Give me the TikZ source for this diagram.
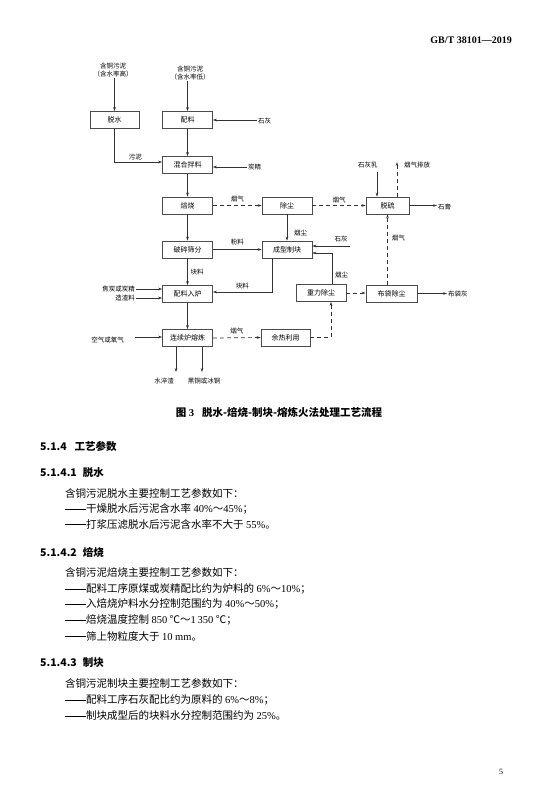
\documentclass[tikz,border=0pt]{standalone}
\usepackage{fontspec}
\setmainfont{Noto Sans CJK SC}
\newfontfamily\headserif{Liberation Serif}
\usetikzlibrary{arrows.meta,positioning}
\newcommand\diagfont{\fontsize{7}{8.5}\selectfont}
\newcommand\smallfont{\fontsize{6.5}{8}\selectfont}
\newcommand\bodyfont{\fontsize{10.5}{12}\selectfont}
\newcommand\lead{\rule[0.33em]{1.95em}{0.45pt}\hspace{0.05em}}
\newcommand\nm[1]{{\headserif #1}}

\begin{document}
\begin{tikzpicture}[x=1pt, y=-1pt,
        box/.style={draw=black!70, line width=0.6pt, minimum width=50pt, minimum height=17pt, inner sep=1pt, font=\diagfont},
        lbl/.style={font=\smallfont, inner sep=1pt, align=center},
        flow/.style={-{Stealth[length=4pt,width=2.6pt]}, line width=0.45pt, draw=black!80},
        gas/.style={flow, dashed, dash pattern=on 4pt off 3pt, line width=0.7pt},
        heading/.style={anchor=west, font=\bfseries\bodyfont, inner sep=0pt},
        bodyline/.style={anchor=west, font=\bodyfont, inner sep=0pt}
      ]
      \useasboundingbox[fill=white] (0,0) rectangle (540,804);
      \node[anchor=east, inner sep=0pt, font={\headserif\bfseries\fontsize{10}{12}\selectfont}] (head) at (512,40) {GB/T 38101—2019};

      % process boxes
      \node[box, minimum width=49pt] (dehyd) at (114.5,120) {脱水};
      \node[box] (batch) at (187.5,120) {配料};
      \node[box] (mix) at (187.5,165) {混合拌料};
      \node[box] (roast) at (187.5,205.5) {焙烧};
      \node[box] (dust) at (287,205.5) {除尘};
      \node[box, minimum width=43pt] (desulf) at (387.5,205.5) {脱硫};
      \node[box] (crush) at (187.5,249.5) {破碎筛分};
      \node[box] (brick) at (287,249.5) {成型制块};
      \node[box] (feed) at (187.5,294) {配料入炉};
      \node[box] (grav) at (321,293) {重力除尘};
      \node[box, minimum width=51pt] (bag) at (391.5,293.5) {布袋除尘};
      \node[box, minimum width=49pt] (heat) at (285.5,337.5) {余热利用};
      \node[box] (smelt) at (187.5,338) {连续炉熔炼};

      % inputs and outputs
      \node[lbl] (src1) at (113,70) {含铜污泥\\（含水率高）};
      \node[lbl] (src2) at (190,73) {含铜污泥\\（含水率低）};
      \node[lbl, anchor=west] (lime1) at (257,121) {石灰};
      \node[lbl, anchor=west] (coke1) at (247,167) {炭精};
      \node[lbl, anchor=west] (limemilk) at (357,165) {石灰乳};
      \coordinate (milkin) at (377,172);
      \coordinate (exhaust) at (397,162);
      \node[lbl, anchor=west] (exhaustlbl) at (403,165) {烟气排放};
      \node[lbl, anchor=west] (gypsum) at (437,207) {石膏};
      \coordinate (lime2in) at (350,246);
      \node[lbl] (lime2) at (341,239) {石灰};
      \node[lbl, anchor=east] (coke2) at (136,289) {焦炭或炭精};
      \node[lbl, anchor=east] (slag) at (136,298) {造渣料};
      \node[lbl, anchor=west] (bagash) at (447,294.5) {布袋灰};
      \node[lbl, anchor=east] (air) at (125,340) {空气或氧气};
      \node[lbl] (out1) at (164,381) {水淬渣};
      \node[lbl] (out2) at (204,381) {黑铜或冰铜};
      \coordinate (slagend) at (176,372);
      \coordinate (copperend) at (202,372);
      \coordinate (dustup) at (332,253);
      \coordinate (airin) at (135,337);

      % material flow
      \draw[flow] (src1.south -| dehyd.north) -- (dehyd.north);
      \draw[flow] (src2.south -| batch.north) -- (batch.north);
      \draw[flow] (lime1.west |- batch.east) -- (batch.east);
      \draw[flow] (dehyd.south) |- ([yshift=3pt]mix.west) node[lbl, pos=0.72, above=1pt] {污泥};
      \draw[flow] (batch.south) -- (mix.north);
      \draw[flow] (coke1.west) -- (coke1.west -| mix.east);
      \draw[flow] (mix.south) -- (roast.north);
      \draw[flow] (roast.south) -- (crush.north);
      \draw[flow] (crush.east) -- (brick.west) node[lbl, midway, above=3pt] {粉料};
      \draw[flow] (dust.south) -- (brick.north) node[lbl, pos=0.72, right=6pt] {烟尘};
      \draw[flow] (lime2in) -- (lime2in -| brick.east);
      \draw[flow] (grav.north -| dustup) -- node[lbl, pos=0.3, right=2pt] {烟尘} (dustup) -- (dustup -| brick.east);
      \draw[flow] (crush.south) -- (feed.north) node[lbl, midway, right=2pt] {块料};
      \draw[flow] ([xshift=-15pt]brick.south) |- ([yshift=2pt]feed.east) node[lbl, pos=0.75, above=2pt] {块料};
      \draw[flow] (coke2.east) -- (coke2.east -| feed.west);
      \draw[flow] (slag.east) -- (slag.east -| feed.west);
      \draw[flow] (feed.south) -- (smelt.north);
      \draw[flow] (airin) -- (airin -| smelt.west);
      \draw[flow] (smelt.south -| slagend) -- (slagend);
      \draw[flow] (smelt.south -| copperend) -- (copperend);
      \draw[flow] (milkin) -- (milkin |- desulf.north);
      \draw[flow] (desulf.east) -- (desulf.east -| gypsum.west);
      \draw[flow] (bag.east) -- (bag.east -| bagash.west);

      % flue gas
      \draw[gas] (roast.east) -- (dust.west) node[lbl, midway, above=2pt] {烟气};
      \draw[gas] (dust.east) -- (desulf.west) node[lbl, midway, above=1pt] {烟气};
      \draw[gas] (desulf.north -| exhaust) -- (exhaust);
      \draw[gas] (bag.north -| desulf.south) -- (desulf.south) node[lbl, pos=0.66, right=3pt] {烟气};
      \draw[gas] (grav.east) -- (grav.east -| bag.west);
      \draw[gas] (smelt.east) -- (heat.west) node[lbl, midway, above=2pt] {烟气};
      \draw[gas] (heat.east) -| ([xshift=10pt]grav.south);

      % caption and text
      \node[font=\bfseries\fontsize{10.5}{12}\selectfont, inner sep=0pt] (caption) at (279,412) {图 \nm{3}\hspace{8pt}脱水-焙烧-制块-熔炼火法处理工艺流程};

      \node[heading] (s514) at (40,446) {5.1.4\hspace{8pt}工艺参数};
      \node[heading] (s5141) at (40,473) {5.1.4.1\hspace{6pt}脱水};
      \node[bodyline] (p1) at (65,493) {含铜污泥脱水主要控制工艺参数如下：};
      \node[bodyline] (p1a) at (65,509) {\lead 干燥脱水后污泥含水率 \nm{40\%}～\nm{45\%}；};
      \node[bodyline] (p1b) at (65,524) {\lead 打浆压滤脱水后污泥含水率不大于 \nm{55\%}。};

      \node[heading] (s5142) at (40,552) {5.1.4.2\hspace{6pt}焙烧};
      \node[bodyline] (p2) at (65,572) {含铜污泥焙烧主要控制工艺参数如下：};
      \node[bodyline] (p2a) at (65,589) {\lead 配料工序原煤或炭精配比约为炉料的 \nm{6\%}～\nm{10\%}；};
      \node[bodyline] (p2b) at (65,604) {\lead 入焙烧炉料水分控制范围约为 \nm{40\%}～\nm{50\%}；};
      \node[bodyline] (p2c) at (65,620) {\lead 焙烧温度控制 \nm{850} ℃～\nm{1\,350} ℃；};
      \node[bodyline] (p2d) at (65,636) {\lead 筛上物粒度大于 \nm{10 mm}。};

      \node[heading] (s5143) at (40,663) {5.1.4.3\hspace{6pt}制块};
      \node[bodyline] (p3) at (65,683) {含铜污泥制块主要控制工艺参数如下：};
      \node[bodyline] (p3a) at (65,700) {\lead 配料工序石灰配比约为原料的 \nm{6\%}～\nm{8\%}；};
      \node[bodyline] (p3b) at (65,716) {\lead 制块成型后的块料水分控制范围约为 \nm{25\%}。};

      \node[font={\headserif\fontsize{8}{10}\selectfont}, inner sep=0pt] (pageno) at (501,772) {5};
    \end{tikzpicture}
\end{document}
